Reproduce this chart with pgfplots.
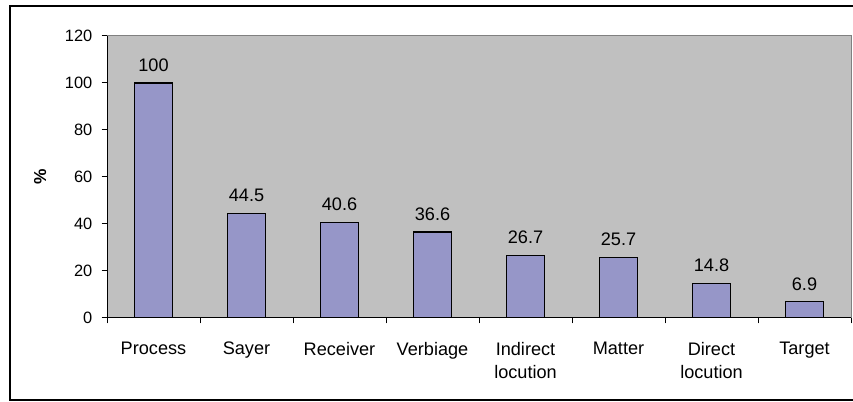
\documentclass[border=0pt]{standalone}
\usepackage{pgfplots}
\pgfplotsset{compat=1.18}
\usepackage{fontspec}
\setmainfont{Liberation Sans}
\definecolor{plotbg}{RGB}{192,192,192}
\definecolor{barfill}{RGB}{150,150,200}
\definecolor{plotborder}{RGB}{128,128,128}
\pgfplotstableread{
x y lab
1 100 100
2 44.5 44.5
3 40.6 40.6
4 36.6 36.6
5 26.7 26.7
6 25.7 25.7
7 14.8 14.8
8 6.9 6.9
}\datatable
\begin{document}
\begin{tikzpicture}[x=0.75pt,y=0.75pt]
\useasboundingbox (0,0) rectangle (853,402);
\draw[black, line width=1.3pt] (858,2) -- (10,2) -- (10,396) -- (858,396);
\begin{axis}[
  at={(80.25pt,63pt)}, anchor=south west,
  scale only axis, width=558pt, height=211.5pt,
  xmin=0.5, xmax=8.5, ymin=0, ymax=120,
  ytick={0,20,...,120},
  xtick={1,...,8},
  xticklabels={Process,Sayer,Receiver,Verbiage,Indirect\\locution,Matter,Direct\\locution,Target},
  minor xtick={0.5,1.5,...,8.5},
  major x tick style={draw=none},
  tick align=outside,
  major tick length=4pt, minor tick length=4pt,
  xtick pos=bottom, ytick pos=left,
  axis x line*=bottom, axis y line*=left,
  axis line style={black, line width=0.75pt, -},
  tick style={black, line width=0.75pt},
  axis background/.style={fill=plotbg, draw=plotborder, line width=0.75pt},
  /pgf/number format/assume math mode=true,
  yticklabel style={font=\fontsize{12.3}{15}\selectfont, xshift=-3.5pt},
  xticklabel style={font=\fontsize{13.6}{17.25}\selectfont, align=center, yshift=-10.5pt},
  ylabel={\textbf{\%}},
  ylabel style={font=\fontsize{13}{15}\selectfont, at={(axis description cs:-0.09,0.5)}, anchor=center},
  ybar, bar width=28.5pt,
  nodes near coords,
  point meta=explicit symbolic,
  nodes near coords style={font=\fontsize{13.6}{15}\selectfont, anchor=base, inner sep=0pt, yshift=8.8pt},
]
\addplot[fill=barfill, draw=black, line width=0.9pt] table[x=x, y=y, meta=lab] {\datatable};
\end{axis}
\end{tikzpicture}
\end{document}
